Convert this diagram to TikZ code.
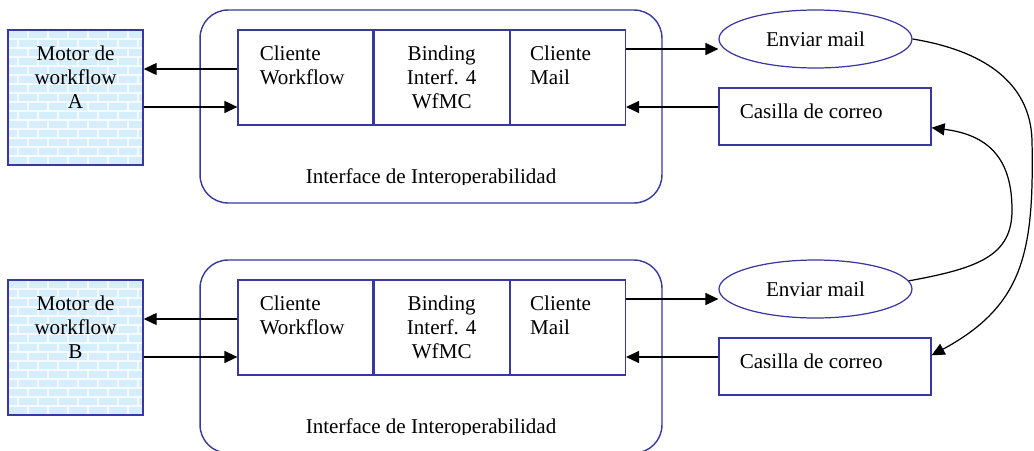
\documentclass[tikz,border=0pt]{standalone}
\usepackage{fontspec}
\setmainfont{Liberation Serif}
\usetikzlibrary{arrows.meta,positioning,shapes.geometric,calc}
\definecolor{ifblue}{HTML}{3838A0}
\definecolor{brickfill}{HTML}{D6EEFB}
\definecolor{brickline}{HTML}{F4FAFE}

\begin{document}
\begin{tikzpicture}[
    x=0.02cm, y=-0.02cm,
    node distance=0pt,
    lbl/.style={inner sep=0pt, font=\fontsize{12}{13.66}\selectfont},
    cell/.style={draw=ifblue, line width=0.7pt, minimum width=2.7cm, minimum height=1.9cm, inner sep=0pt},
    mailcell/.style={cell, minimum width=2.3cm},
    iface/.style={draw=ifblue, line width=0.8pt, rounded corners=0.56cm, minimum width=9.24cm, minimum height=3.86cm},
    motor/.style={draw=ifblue, line width=0.8pt, fill=brickfill, minimum width=2.7cm, minimum height=2.7cm,
                  path picture={
                    \foreach \r in {0,...,14}{
                      \pgfmathtruncatemacro\off{mod(\r,2)*10}
                      \draw[brickline, line width=1pt] ($(path picture bounding box.north west)+(0,\r*9)$) -- ++(140,0);
                      \foreach \k in {0,...,7}
                        \draw[brickline, line width=1pt] ($(path picture bounding box.north west)+(\k*20+\off,\r*9)$) -- ++(0,9);
                    }}},
    sendmail/.style={draw=ifblue, line width=0.7pt, ellipse, minimum width=3.86cm, minimum height=1.16cm,
                     inner sep=0pt, font=\fontsize{12}{13.66}\selectfont},
    mailbox/.style={draw=ifblue, line width=0.7pt, minimum width=4.24cm, minimum height=1.14cm},
    arr/.style={-{Triangle[length=0.26cm, width=0.24cm]}, line width=0.7pt}
  ]
  \useasboundingbox (0,0) rectangle (1034,450);

  \node[iface] (ifA) at (431,106.5) {};
  \node[iface] (ifB) at (431,356.5) {};
  \begin{scope}
    \clip (ifA.north west) rectangle ($(ifA.south east)+(0,-19)$);
    \node[lbl, anchor=north] (ifAt) at ($(ifA.north)+(0,159)$) {Interface de Interoperabilidad};
  \end{scope}
  \begin{scope}
    \clip (ifB.north west) rectangle ($(ifB.south east)+(0,-19)$);
    \node[lbl, anchor=north] (ifBt) at ($(ifB.north)+(0,159)$) {Interface de Interoperabilidad};
  \end{scope}

  \node[motor] (mtA) at (75.5,97.5) {};
  \node[lbl, anchor=north, align=center] (mtAt) at ($(mtA.north)+(0,16)$) {Motor de\\workflow\\A};
  \node[motor] (mtB) at (75.5,347.5) {};
  \node[lbl, anchor=north, align=center] (mtBt) at ($(mtB.north)+(0,16)$) {Motor de\\workflow\\B};

  \node[cell] (cwA) at (305.5,77.5) {};
  \node[cell, right=of cwA] (cbA) {};
  \node[mailcell, right=of cbA] (cmA) {};
  \node[lbl, anchor=north west, align=left] (cwAt) at ($(cwA.north west)+(22,16)$) {Cliente\\Workflow};
  \node[lbl, anchor=north, align=center] (cbAt) at ($(cbA.north)+(0,16)$) {Binding\\Interf. 4\\WfMC};
  \node[lbl, anchor=north west, align=left] (cmAt) at ($(cmA.north west)+(20,16)$) {Cliente\\Mail};

  \node[cell] (cwB) at (305.5,327.5) {};
  \node[cell, right=of cwB] (cbB) {};
  \node[mailcell, right=of cbB] (cmB) {};
  \node[lbl, anchor=north west, align=left] (cwBt) at ($(cwB.north west)+(22,16)$) {Cliente\\Workflow};
  \node[lbl, anchor=north, align=center] (cbBt) at ($(cbB.north)+(0,16)$) {Binding\\Interf. 4\\WfMC};
  \node[lbl, anchor=north west, align=left] (cmBt) at ($(cmB.north west)+(20,16)$) {Cliente\\Mail};

  \node[sendmail] (envA) at (815.5,39) {Enviar mail};
  \node[mailbox] (casA) at (825,116.5) {};
  \node[lbl, anchor=north west] (casAt) at ($(casA.north west)+(21,16)$) {Casilla de correo};
  \node[sendmail] (envB) at (815.5,289) {Enviar mail};
  \node[mailbox] (casB) at (825,366.5) {};
  \node[lbl, anchor=north west] (casBt) at ($(casB.north west)+(21,16)$) {Casilla de correo};

  \draw[arr] ([yshift=0.17cm]cwA.west) -- ([yshift=0.17cm]cwA.west -| mtA.east);
  \draw[arr] ([yshift=-0.59cm]cwA.west -| mtA.east) -- ([yshift=-0.59cm]cwA.west);
  \draw[arr] ([yshift=0.57cm]cmA.east) -- ([yshift=0.57cm]cmA.east -| envA.west);
  \draw[arr] ([yshift=0.19cm]casA.west) -- ([yshift=0.19cm]casA.west -| cmA.east);

  \draw[arr] ([yshift=0.17cm]cwB.west) -- ([yshift=0.17cm]cwB.west -| mtB.east);
  \draw[arr] ([yshift=-0.59cm]cwB.west -| mtB.east) -- ([yshift=-0.59cm]cwB.west);
  \draw[arr] ([yshift=0.57cm]cmB.east) -- ([yshift=0.57cm]cmB.east -| envB.west);
  \draw[arr] ([yshift=0.19cm]casB.west) -- ([yshift=0.19cm]casB.west -| cmB.east);

  \draw[arr] (envA.east) .. controls (980,50) and (1030,80) .. (1032,140)
             .. controls (1034,250) and (1025,305) .. (casB.6);
  \draw[arr] (envB.5) .. controls (980,268) and (1012,255) .. (1012,210)
             .. controls (1012,160) and (990,135) .. (casA.-6);
\end{tikzpicture}
\end{document}
